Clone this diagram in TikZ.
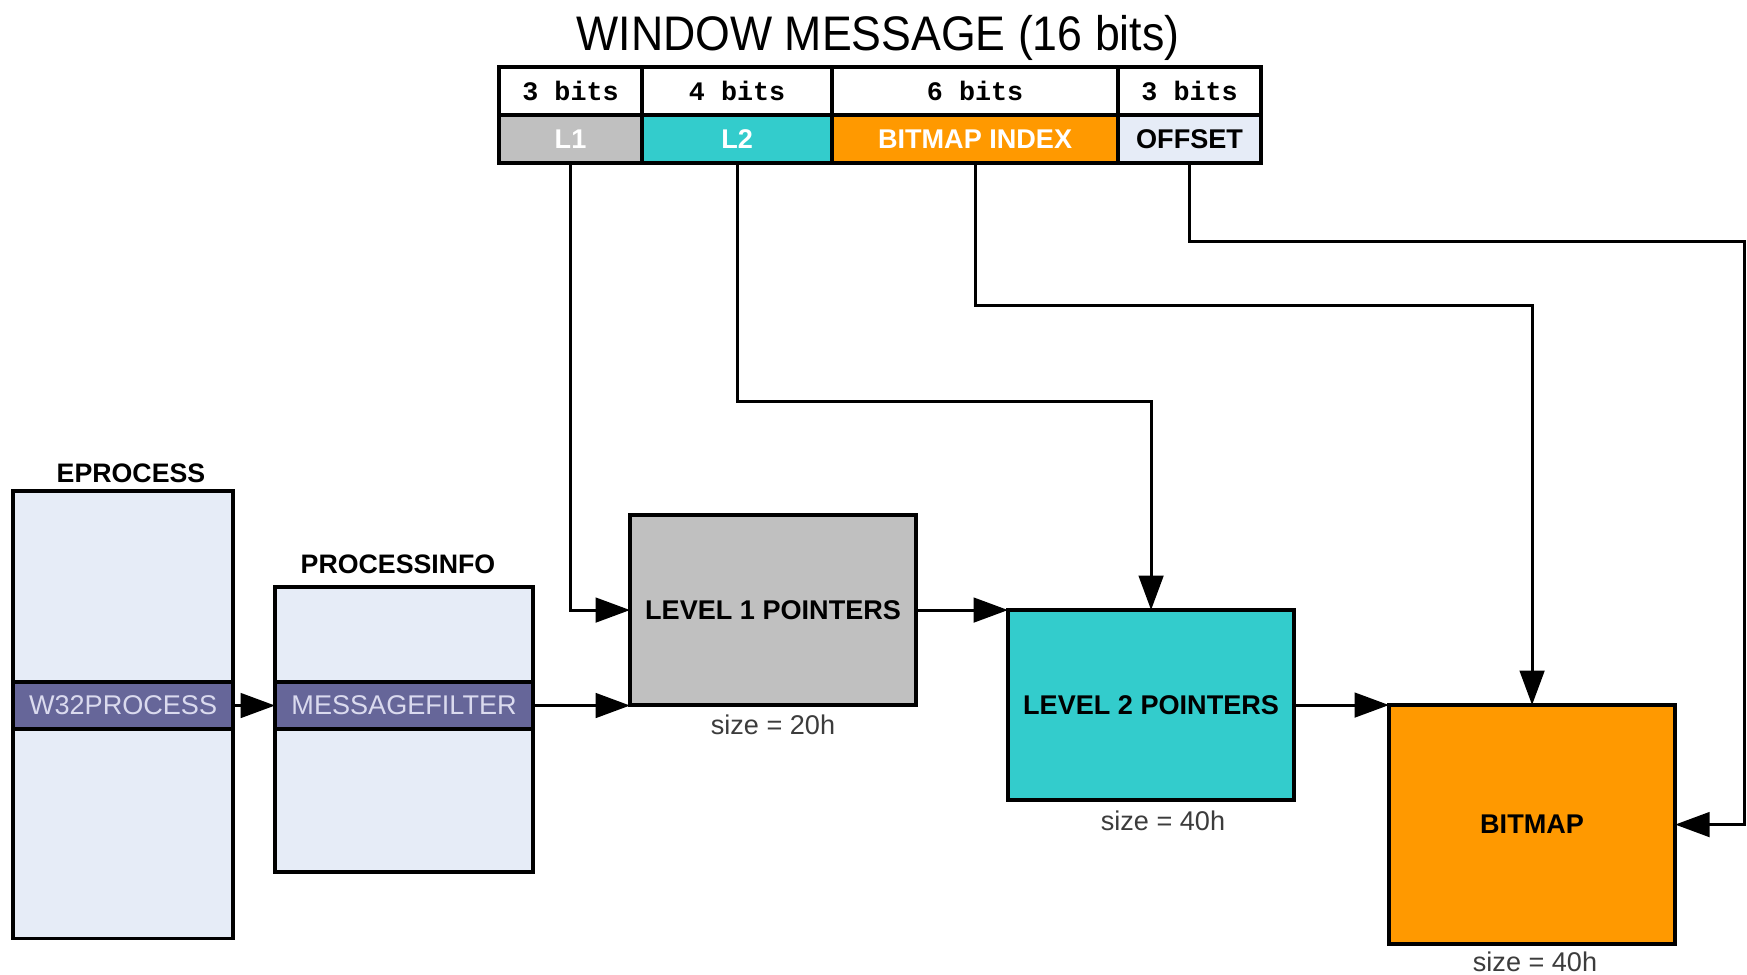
\documentclass[tikz,border=0pt]{standalone}
\usepackage{fontspec}
\setmainfont{Liberation Sans}
\newfontfamily\titlefont[FakeStretch=0.92]{Liberation Sans}
\newfontfamily\bitsfont{Liberation Mono}
\usetikzlibrary{arrows.meta}

\definecolor{paleblue}{HTML}{E6ECF7}
\definecolor{greybox}{HTML}{C0C0C0}
\definecolor{tealbox}{HTML}{33CCCC}
\definecolor{orangebox}{HTML}{FF9900}
\definecolor{bandpurple}{HTML}{666699}
\definecolor{bandtext}{HTML}{DADAEE}
\definecolor{sizegrey}{HTML}{3C3C3C}

\begin{document}
\begin{tikzpicture}[x=0.01cm,y=-0.01cm,
  frame/.style={draw=black,line width=1pt,inner sep=0pt,outer sep=0pt,anchor=north west},
  bitcell/.style={frame,fill=white,font=\bitsfont\bfseries\fontsize{7.6}{9}\selectfont},
  fieldcell/.style={frame,font=\bfseries\fontsize{7.7}{9}\selectfont},
  struct/.style={frame,fill=paleblue},
  band/.style={frame,fill=bandpurple,text=bandtext,font=\fontsize{7.7}{9}\selectfont},
  table/.style={frame,font=\bfseries\fontsize{7.7}{9}\selectfont},
  caption/.style={font=\bfseries\fontsize{7.6}{9}\selectfont,anchor=base,inner sep=0pt},
  sizenote/.style={font=\fontsize{7.7}{9}\selectfont,text=sizegrey,anchor=base,inner sep=0pt},
  arr/.style={line width=0.85pt,-{Triangle[length=9.8pt,width=7pt]}}
]
\useasboundingbox (0,0) rectangle (1747,975);

% title
\node[anchor=base,inner sep=0pt,font=\titlefont\fontsize{13.8}{16}\selectfont] (title) at (878,50) {WINDOW MESSAGE (16 bits)};

% bit-field layout of the message
\node[bitcell,minimum width=1.43cm,minimum height=0.48cm] (w1) at (499,67) {3 bits};
\node[bitcell,minimum width=1.90cm,minimum height=0.48cm] (w2) at (642,67) {4 bits};
\node[bitcell,minimum width=2.86cm,minimum height=0.48cm] (w3) at (832,67) {6 bits};
\node[bitcell,minimum width=1.43cm,minimum height=0.48cm] (w4) at (1118,67) {3 bits};
\node[fieldcell,fill=greybox,text=white,minimum width=1.43cm,minimum height=0.48cm] (f1) at (499,115) {L1};
\node[fieldcell,fill=tealbox,text=white,minimum width=1.90cm,minimum height=0.48cm] (f2) at (642,115) {L2};
\node[fieldcell,fill=orangebox,text=white,minimum width=2.86cm,minimum height=0.48cm] (f3) at (832,115) {BITMAP INDEX};
\node[fieldcell,fill=paleblue,text=black,minimum width=1.43cm,minimum height=0.48cm] (f4) at (1118,115) {OFFSET};

% process structures
\node[caption] (epcap) at (131,482) {EPROCESS};
\node[struct,minimum width=2.20cm,minimum height=4.47cm] (ep) at (13,491) {};
\node[band,minimum width=2.20cm,minimum height=0.47cm] (w32) at (13,682) {W32PROCESS};

\node[caption] (picap) at (398,573) {PROCESSINFO};
\node[struct,minimum width=2.58cm,minimum height=2.85cm] (pi) at (275,587) {};
\node[band,minimum width=2.58cm,minimum height=0.47cm] (mf) at (275,682) {MESSAGEFILTER};

% lookup tables
\node[table,fill=greybox,minimum width=2.86cm,minimum height=1.90cm] (l1) at (630,515) {LEVEL 1 POINTERS};
\node[sizenote] (l1size) at (773,734) {size = 20h};
\node[table,fill=tealbox,minimum width=2.86cm,minimum height=1.90cm] (l2) at (1008,610) {LEVEL 2 POINTERS};
\node[sizenote] (l2size) at (1163,830) {size = 40h};
\node[table,fill=orangebox,minimum width=2.86cm,minimum height=2.39cm] (bm) at (1389,705) {BITMAP};
\node[sizenote] (bmsize) at (1535,971) {size = 40h};

\coordinate (rt) at (1744,241);

% connectors
\draw[arr] (w32.east) -- (mf.west);
\draw[arr] (mf.east) -- (mf.east -| l1.west);
\draw[arr] (l1.east) -- (l1.east -| l2.west);
\draw[arr] (l2.east) -- (l2.east -| bm.west);
\draw[arr] (f1.south) |- (l1.west);
\draw[arr] (f2.south) -- ++(0,238) -| (l2.north);
\draw[arr] (f3.south) -- ++(0,142) -| (bm.north);
\draw[arr] (f4.south) -- (f4.south |- rt) -- (rt) |- (bm.east);
\end{tikzpicture}
\end{document}
